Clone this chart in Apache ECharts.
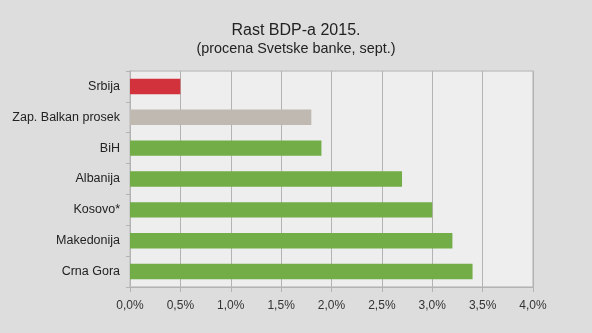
<!DOCTYPE html>
<html><head><meta charset="utf-8">
<script src="https://cdn.jsdelivr.net/npm/echarts@6/dist/echarts.min.js"></script>
<style>html,body{margin:0;padding:0;background:#dddddd;}#c{width:592px;height:333px;}</style>
</head><body><div id="c"></div>
<script>
const categories = ["Srbija","Zap. Balkan prosek","BiH","Albanija","Kosovo*","Makedonija","Crna Gora"];
const values = [0.5, 1.8, 1.9, 2.7, 3.0, 3.2, 3.4];
const barColors = ["#d2323c","#bfb9b2","#72ad47","#72ad47","#72ad47","#72ad47","#72ad47"];
const xTicks = [0,0.5,1,1.5,2,2.5,3,3.5,4];

const chart = echarts.init(document.getElementById('c'));
chart.setOption({
  backgroundColor: '#dddddd',
  animation: false,
  title: {
    text: 'Rast BDP-a 2015.',
    subtext: '(procena Svetske banke, sept.)',
    left: 'center', top: 18, itemGap: 3,
    textStyle: {fontFamily: 'Liberation Sans', fontSize: 16, fontWeight: 'normal', color: '#222'},
    subtextStyle: {fontFamily: 'Liberation Sans', fontSize: 14.4, color: '#222'}
  },
  grid: {left: 130, right: 59, top: 71, height: 216, backgroundColor: '#eeeeee', show: true,
         borderWidth: 1.5, borderColor: '#c4c4c4'},
  xAxis: {
    type: 'value', min: 0, max: 4, interval: 0.5,
    axisLine: {show: true, lineStyle: {color: '#b3b3b3'}},
    axisTick: {show: true, length: 5, lineStyle: {color: '#b3b3b3'}},
    splitLine: {show: true, lineStyle: {color: '#b3b3b3', width: 1}},
    axisLabel: {fontFamily: 'Liberation Sans', fontSize: 12, color: '#333', margin: 13,
      formatter: v => v.toFixed(1).replace('.', ',') + '%'}
  },
  yAxis: {
    type: 'category', inverse: true, data: categories,
    axisLine: {show: true, lineStyle: {color: '#b3b3b3'}},
    axisTick: {show: true, length: 4, lineStyle: {color: '#b3b3b3'}},
    axisLabel: {fontFamily: 'Liberation Sans', fontSize: 12.5, color: '#222', margin: 10}
  },
  series: [{
    type: 'bar', barWidth: '50%',
    data: values.map((v, i) => ({value: v, itemStyle: {color: barColors[i]}}))
  }]
});
</script></body></html>
